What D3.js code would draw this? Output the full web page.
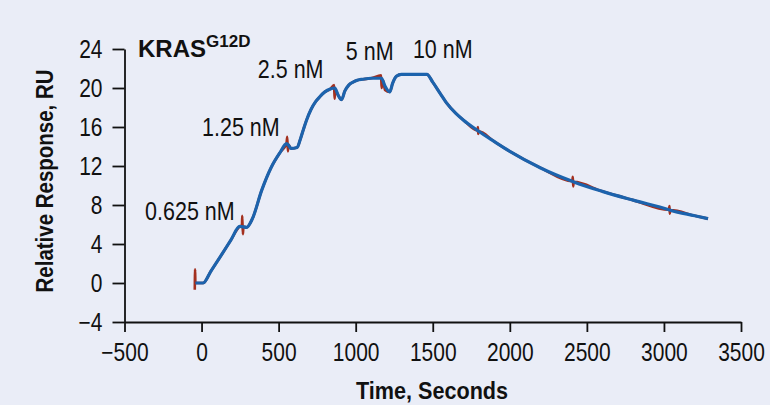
<!DOCTYPE html>
<html>
<head>
<meta charset="utf-8">
<script src="https://cdn.jsdelivr.net/npm/d3@7"></script>
<style>
  body { margin: 0; background: #eaedf7; }
  svg { display: block; font-family: "Liberation Sans", Arial, sans-serif; }
</style>
</head>
<body>
<script>
const width = 770;
const height = 405;
const narrow = 0.84; // squeeze text to look like a condensed face

// fitted curve (blue)
const fitTime = [-40, 10, 60, 130, 190, 248, 292, 330, 390, 450, 510, 551, 565, 580, 620, 640, 660, 681, 710, 740, 767, 800, 835, 865, 885, 908, 930, 955, 983, 1010, 1046, 1100, 1167, 1190, 1221, 1240, 1264, 1297, 1380, 1462, 1500, 1550, 1588, 1650, 1700, 1790, 1798, 1900, 2000, 2200, 2405, 2415, 2600, 2800, 3032, 3042, 3200, 3286];
const fitValue = [0, 0, 1.2, 2.9, 4.4, 5.8, 5.7, 6.6, 9.5, 11.8, 13.4, 14.3, 14.1, 13.8, 13.9, 14.7, 15.7, 16.7, 17.8, 18.6, 19.1, 19.6, 19.9, 20.0, 19.3, 18.8, 19.7, 20.3, 20.6, 20.8, 20.9, 21.0, 21.0, 20.2, 19.6, 20.5, 21.2, 21.4, 21.4, 21.4, 20.6, 19.4, 18.5, 17.4, 16.7, 15.65, 15.56, 14.5, 13.5, 11.8, 10.43, 10.37, 9.4, 8.5, 7.52, 7.47, 6.9, 6.6];

// measured response (red), with injection spikes
const dataTime = [-44, -42, -40, 10, 60, 130, 190, 248, 262, 264, 268, 272, 292, 330, 390, 450, 510, 551, 556, 560, 564, 580, 620, 640, 660, 681, 710, 740, 767, 800, 835, 860, 863, 868, 885, 908, 930, 955, 983, 1010, 1046, 1100, 1165, 1168, 1178, 1190, 1221, 1240, 1264, 1297, 1380, 1462, 1500, 1550, 1588, 1650, 1700, 1790, 1793, 1795, 1798, 1900, 2000, 2200, 2405, 2409, 2411, 2415, 2600, 2800, 3032, 3036, 3038, 3042, 3200, 3286];
const dataValue = [-0.7, 1.4, 0, 0, 1.2, 2.9, 4.4, 5.8, 5.9, 6.9, 5.0, 5.8, 5.7, 6.6, 9.5, 11.8, 13.4, 14.3, 15.0, 13.5, 14.2, 13.8, 13.9, 14.7, 15.7, 16.7, 17.8, 18.6, 19.1, 19.6, 19.9, 20.3, 18.9, 19.8, 19.3, 18.8, 19.7, 20.3, 20.6, 20.8, 20.9, 21.0, 21.3, 20.0, 20.8, 19.8, 19.6, 20.5, 21.2, 21.4, 21.4, 21.4, 20.6, 19.4, 18.5, 17.4, 16.7, 15.65, 16.0, 15.3, 15.56, 14.5, 13.5, 11.8, 10.43, 10.9, 9.9, 10.37, 9.4, 8.5, 7.52, 7.9, 7.1, 7.47, 6.9, 6.6];

const xTicks = [-500, 0, 500, 1000, 1500, 2000, 2500, 3000, 3500];
const yTicks = [-4, 0, 4, 8, 12, 16, 20, 24];

const concLabels = ["0.625 nM", "1.25 nM", "2.5 nM", "5 nM", "10 nM"];
const concTime = [-76, 255, 578, 1091, 1565];
const concValue = [7.3, 16.0, 21.9, 23.8, 24.0];

const svg = d3.select("body")
    .append("svg")
    .attr("width", width)
    .attr("height", height);

svg.append("rect")
    .attr("width", width)
    .attr("height", height)
    .attr("fill", "#eaedf7");

const xScale = d3.scaleLinear()
    .domain([-500, 3500])
    .range([124.5, 741]);
const yScale = d3.scaleLinear()
    .domain([-4, 24])
    .range([322, 49]);

const minus = d => d < 0 ? "\u2212" + Math.abs(d) : d;

const xAxis = d3.axisBottom(xScale)
    .tickValues(xTicks)
    .tickSize(10)
    .tickSizeOuter(0)
    .tickFormat(minus);
const yAxis = d3.axisLeft(yScale)
    .tickValues(yTicks)
    .tickSize(12)
    .tickSizeOuter(0)
    .tickFormat(minus);

const gx = svg.append("g")
    .attr("transform", `translate(0, ${yScale(-4)})`)
    .call(xAxis);
const gy = svg.append("g")
    .attr("transform", `translate(${xScale(-500)}, 0)`)
    .call(yAxis);

[gx, gy].forEach(g => {
    g.selectAll("path, line").attr("stroke", "#111").attr("stroke-width", 1.8);
    g.selectAll("text")
        .attr("fill", "#111")
        .style("font-size", "25px")
        .style("font-family", "inherit")
        .attr("transform", `scale(${narrow},1)`);
});
gx.selectAll("text").attr("y", 21);
gy.selectAll("text").attr("x", -22 / narrow);

const line = d3.line()
    .x(d => xScale(d[0]))
    .y(d => yScale(d[1]))
    .curve(d3.curveMonotoneX);

// measured data underneath
svg.append("path")
    .datum(dataTime.map((t, i) => [t, dataValue[i]]))
    .attr("d", line)
    .attr("fill", "none")
    .attr("stroke", "#a3301f")
    .attr("stroke-width", 2.6)
    .attr("stroke-linejoin", "round");

// fit on top
svg.append("path")
    .datum(fitTime.map((t, i) => [t, fitValue[i]]))
    .attr("d", line)
    .attr("fill", "none")
    .attr("stroke", "#1c63ad")
    .attr("stroke-width", 3.2)
    .attr("stroke-linejoin", "round");

// concentration labels
svg.selectAll(".conc")
    .data(concLabels)
    .enter()
    .append("text")
    .attr("class", "conc")
    .attr("transform", (d, i) => `translate(${xScale(concTime[i])}, ${yScale(concValue[i])}) scale(0.86,1)`)
    .attr("text-anchor", "middle")
    .attr("dominant-baseline", "central")
    .style("font-size", "25px")
    .attr("fill", "#111")
    .text(d => d);

// title
const title = svg.append("text")
    .attr("x", 138)
    .attr("y", 57)
    .attr("fill", "#111")
    .style("font-weight", "bold")
    .style("font-size", "24px");
title.append("tspan").text("KRAS");
title.append("tspan")
    .attr("dy", -10)
    .style("font-size", "17px")
    .text("G12D");

// axis titles
svg.append("text")
    .attr("transform", "translate(432, 391) scale(0.94,1)")
    .attr("text-anchor", "middle")
    .attr("dominant-baseline", "central")
    .style("font-weight", "bold")
    .style("font-size", "23px")
    .attr("fill", "#111")
    .text("Time, Seconds");

svg.append("text")
    .attr("transform", "translate(45, 181) rotate(-90) scale(0.89,1)")
    .attr("text-anchor", "middle")
    .attr("dominant-baseline", "central")
    .style("font-weight", "bold")
    .style("font-size", "23px")
    .attr("fill", "#111")
    .text("Relative Response, RU");
</script>
</body>
</html>
